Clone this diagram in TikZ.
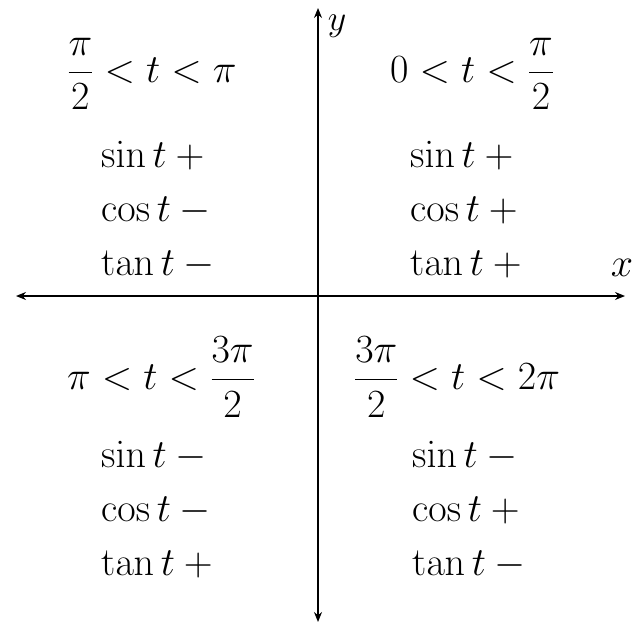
\documentclass[tikz,border=0pt]{standalone}
\usepackage{fix-cm}
\usepackage{amsmath}
\usetikzlibrary{arrows.meta}
\begin{document}
\begin{tikzpicture}[x=1pt,y=-1pt,
  axis/.style={line width=1.3pt,{Stealth[length=10pt,width=8pt]}-{Stealth[length=10pt,width=8pt]}},
  txt/.style={font=\fontsize{40}{48}\selectfont, inner sep=0pt},
  row/.style={txt, anchor=base west}]
\useasboundingbox (0,0) rectangle (634,626);
\coordinate (L) at (16,296);
\coordinate (R) at (625,296);
\coordinate (T) at (318,8);
\coordinate (B) at (318,622);
\draw[axis] (L) -- (R);
\draw[axis] (B) -- (T);
\node[txt, font=\fontsize{36}{42}\selectfont] (ylab) at (337,26) {$y$};
\node[txt] (xlab) at (622,268) {$x$};
% Q2
\node[txt] (h2) at (152,74) {$\dfrac{\pi}{2} < t < \pi$};
\node[row] (s2) at (101,167) {$\sin t + {}$};
\node[row] (c2) at (101,221) {$\cos t - {}$};
\node[row] (t2) at (101,275) {$\tan t - {}$};
% Q1
\node[txt] (h1) at (472,74) {$0 < t < \dfrac{\pi}{2}$};
\node[row] (s1) at (410,167) {$\sin t + {}$};
\node[row] (c1) at (410,221) {$\cos t + {}$};
\node[row] (t1) at (410,275) {$\tan t + {}$};
% Q3
\node[txt] (h3) at (161,377) {$\pi < t < \dfrac{3\pi}{2}$};
\node[row] (s3) at (101,467) {$\sin t - {}$};
\node[row] (c3) at (101,521) {$\cos t - {}$};
\node[row] (t3) at (101,575) {$\tan t + {}$};
% Q4
\node[txt] (h4) at (457,377) {$\dfrac{3\pi}{2} < t < 2\pi$};
\node[row] (s4) at (412,467) {$\sin t - {}$};
\node[row] (c4) at (412,521) {$\cos t + {}$};
\node[row] (t4) at (412,575) {$\tan t - {}$};
\end{tikzpicture}
\end{document}
